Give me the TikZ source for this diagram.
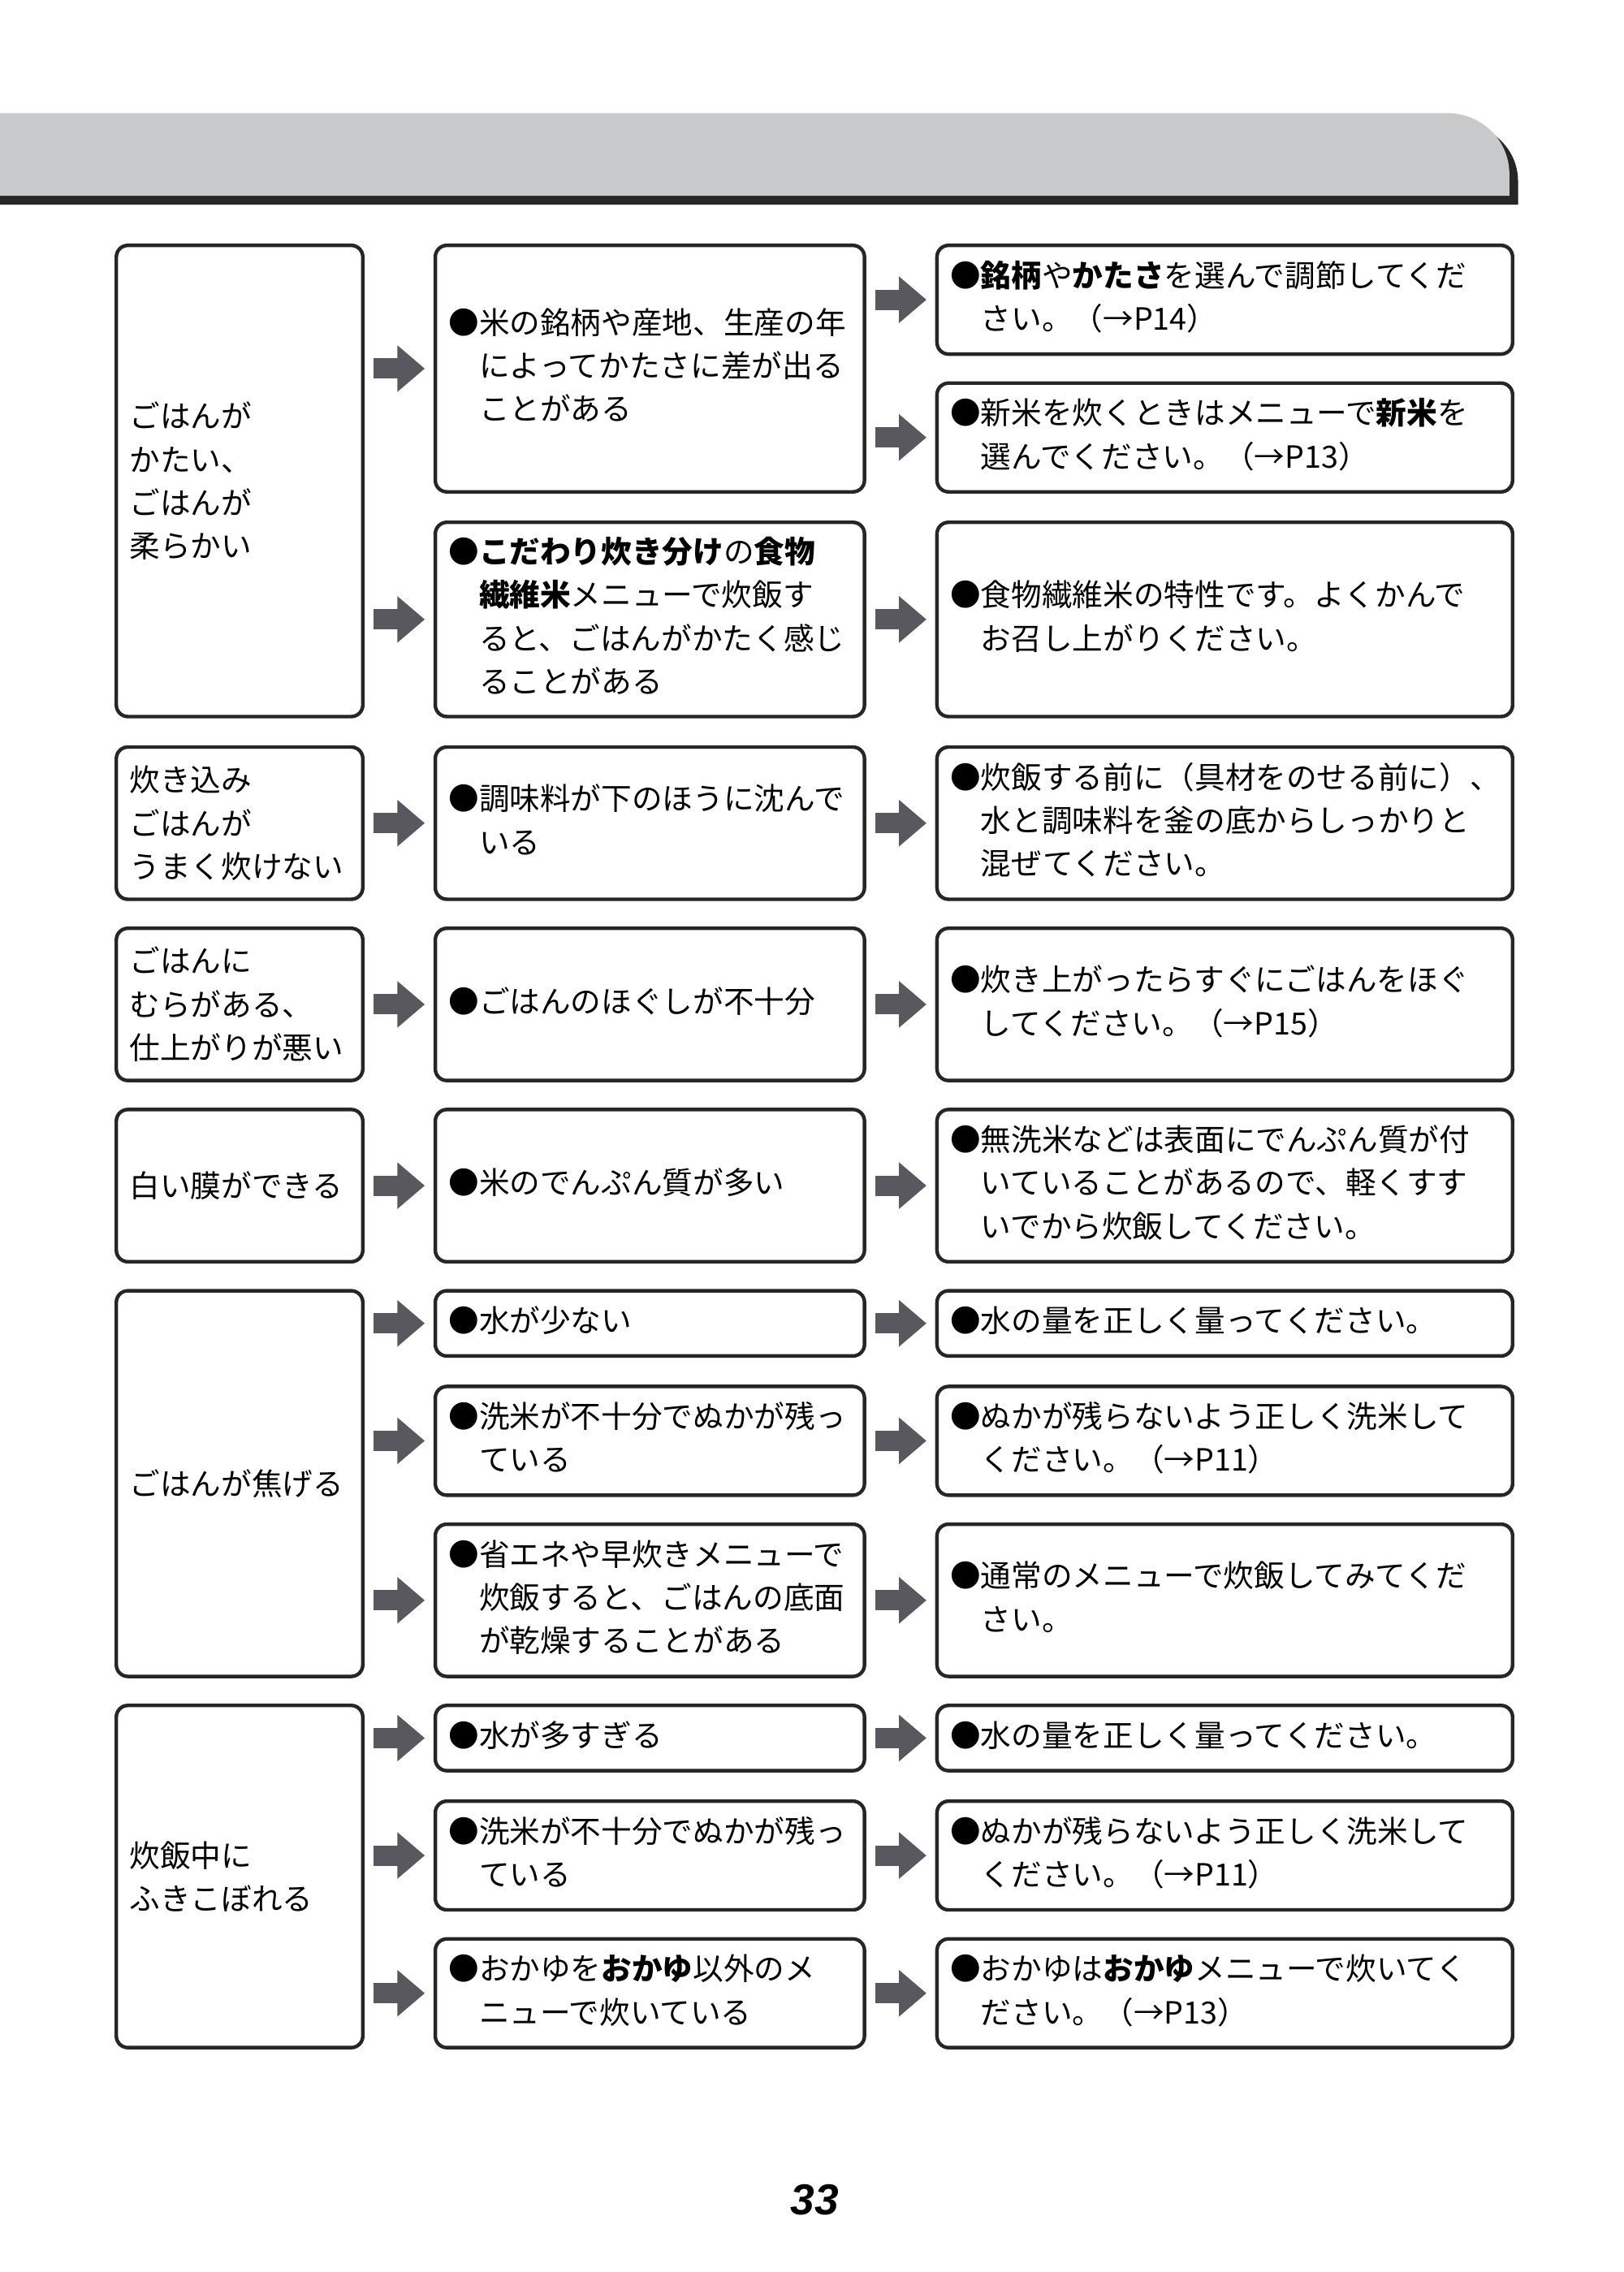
\documentclass[tikz,border=0pt]{standalone}
\usepackage{fontspec}
\setmainfont{Noto Sans CJK JP}
\newfontfamily\numfont{Liberation Sans}
\usetikzlibrary{arrows.meta}
\definecolor{bandgray}{RGB}{200,201,203}
\definecolor{arrowgray}{RGB}{88,88,94}
\tikzset{
	box/.style={draw=black!85, line width=1.4pt, rounded corners=0.16cm, anchor=north west, inner sep=0pt},
	txt/.style={anchor=west, inner sep=0pt, align=left, font=\fontsize{12pt}{17pt}\selectfont},
	flow/.style={draw=arrowgray, line width=0.28cm, shorten <=0.12cm, shorten >=0.12cm,
		-{Triangle[length=0.38cm,width=0.62cm]}}
}
% Kasten mit Text: Name, x1, y1, x2, y2, Inhalt
\newcommand\kasten[6]{%
	\node[box, minimum width={(#4-#2)*0.02cm}, minimum height={(#5-#3)*0.02cm}] (#1) at (#2,-#3) {};
	\node[txt] at ([xshift=0.2cm]#1.west) {#6};}
\newcommand\itm[1]{●\begin{tabular}[t]{@{}l@{}}#1\end{tabular}}
\newcommand\flow[2]{\draw[flow] (#1.east |- #2.west) -- (#2.west);}
\begin{document}
\begin{tikzpicture}[x=0.02cm, y=0.02cm]
	\useasboundingbox (0,0) rectangle (1120,-1567);
	% Kopfband
	\fill[black!85] (0,-83) -- (1000,-83) to[out=0,in=90] (1047,-125) -- (1047,-141) -- (0,-141) -- cycle;
	\fill[bandgray] (0,-78) -- (998,-78) to[out=0,in=90] (1041,-120) -- (1041,-135) -- (0,-135) -- cycle;

	% ごはんがかたい
	\kasten{g1l}{79}{168}{249}{493}{ごはんが\\かたい、\\ごはんが\\柔らかい}
	\kasten{g1m1}{299}{168}{595}{338}{\itm{米の銘柄や産地、生産の年\\によってかたさに差が出る\\ことがある}}
	\kasten{g1m2}{299}{359}{595}{493}{\itm{\textbf{こだわり炊き分け}の\textbf{食物}\\\textbf{繊維米}メニューで炊飯す\\ると、ごはんがかたく感じ\\ることがある}}
	\kasten{g1r1}{645}{168}{1042}{243}{\itm{\textbf{銘柄}や\textbf{かたさ}を選んで調節してくだ\\さい。（→P14）}}
	\kasten{g1r2}{645}{263}{1042}{338}{\itm{新米を炊くときはメニューで\textbf{新米}を\\選んでください。（→P13）}}
	\kasten{g1r3}{645}{359}{1042}{493}{\itm{食物繊維米の特性です。よくかんで\\お召し上がりください。}}
	\flow{g1l}{g1m1} \flow{g1l}{g1m2}
	\flow{g1m1}{g1r1} \flow{g1m1}{g1r2} \flow{g1m2}{g1r3}

	% 炊き込みごはん
	\kasten{g2l}{79}{514}{249}{619}{炊き込み\\ごはんが\\うまく炊けない}
	\kasten{g2m}{299}{514}{595}{619}{\itm{調味料が下のほうに沈んで\\いる}}
	\kasten{g2r}{645}{514}{1042}{619}{\itm{炊飯する前に（具材をのせる前に）、\\水と調味料を釜の底からしっかりと\\混ぜてください。}}
	\flow{g2l}{g2m} \flow{g2m}{g2r}

	% むら
	\kasten{g3l}{79}{639}{249}{744}{ごはんに\\むらがある、\\仕上がりが悪い}
	\kasten{g3m}{299}{639}{595}{744}{\itm{ごはんのほぐしが不十分}}
	\kasten{g3r}{645}{639}{1042}{744}{\itm{炊き上がったらすぐにごはんをほぐ\\してください。（→P15）}}
	\flow{g3l}{g3m} \flow{g3m}{g3r}

	% 白い膜
	\kasten{g4l}{79}{764}{249}{869}{白い膜ができる}
	\kasten{g4m}{299}{764}{595}{869}{\itm{米のでんぷん質が多い}}
	\kasten{g4r}{645}{764}{1042}{869}{\itm{無洗米などは表面にでんぷん質が付\\いていることがあるので、軽くすす\\いでから炊飯してください。}}
	\flow{g4l}{g4m} \flow{g4m}{g4r}

	% 焦げる
	\kasten{g5l}{79}{889}{249}{1155}{ごはんが焦げる}
	\kasten{g5m1}{299}{889}{595}{934}{\itm{水が少ない}}
	\kasten{g5m2}{299}{955}{595}{1030}{\itm{洗米が不十分でぬかが残っ\\ている}}
	\kasten{g5m3}{299}{1050}{595}{1155}{\itm{省エネや早炊きメニューで\\炊飯すると、ごはんの底面\\が乾燥することがある}}
	\kasten{g5r1}{645}{889}{1042}{934}{\itm{水の量を正しく量ってください。}}
	\kasten{g5r2}{645}{955}{1042}{1030}{\itm{ぬかが残らないよう正しく洗米して\\ください。（→P11）}}
	\kasten{g5r3}{645}{1050}{1042}{1155}{\itm{通常のメニューで炊飯してみてくだ\\さい。}}
	\foreach \i in {1,2,3} {\flow{g5l}{g5m\i} \flow{g5m\i}{g5r\i}}

	% ふきこぼれ
	\kasten{g6l}{79}{1175}{249}{1411}{炊飯中に\\ふきこぼれる}
	\kasten{g6m1}{299}{1175}{595}{1220}{\itm{水が多すぎる}}
	\kasten{g6m2}{299}{1241}{595}{1316}{\itm{洗米が不十分でぬかが残っ\\ている}}
	\kasten{g6m3}{299}{1336}{595}{1411}{\itm{おかゆを\textbf{おかゆ}以外のメ\\ニューで炊いている}}
	\kasten{g6r1}{645}{1175}{1042}{1220}{\itm{水の量を正しく量ってください。}}
	\kasten{g6r2}{645}{1241}{1042}{1316}{\itm{ぬかが残らないよう正しく洗米して\\ください。（→P11）}}
	\kasten{g6r3}{645}{1336}{1042}{1411}{\itm{おかゆは\textbf{おかゆ}メニューで炊いてく\\ださい。（→P13）}}
	\foreach \i in {1,2,3} {\flow{g6l}{g6m\i} \flow{g6m\i}{g6r\i}}

	% Seitenzahl
	\node (seite) at (562,-1517) {\numfont\fontsize{17pt}{20pt}\selectfont\bfseries\itshape 33};
\end{tikzpicture}
\end{document}
